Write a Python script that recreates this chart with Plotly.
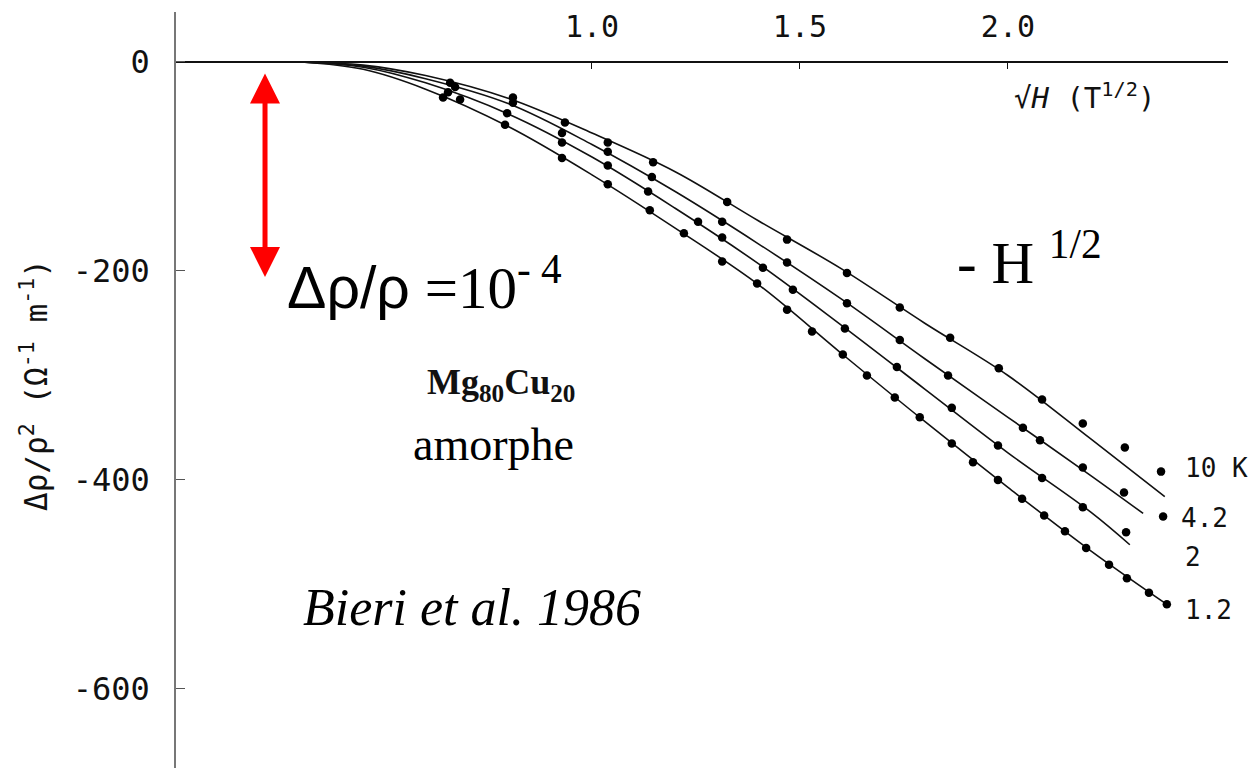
import plotly.graph_objects as go

# ---------------- data (x = sqrt(H) in T^1/2, y = Δρ/ρ² in Ω⁻¹ m⁻¹) ----------------
x_10K = [0.659, 0.810, 0.935, 1.038, 1.147, 1.325, 1.469, 1.613, 1.740, 1.861, 1.978, 2.082, 2.180, 2.281, 2.368]
y_10K = [-20, -34, -58, -77, -96, -134, -170, -202, -235, -264, -293, -323, -346, -369, -392]

x_4K2 = [0.671, 0.810, 0.928, 1.038, 1.144, 1.313, 1.469, 1.613, 1.740, 1.856, 2.036, 2.077, 2.180, 2.279, 2.373]
y_4K2 = [-24, -39, -68, -86, -110, -153, -192, -231, -266, -300, -350, -362, -388, -412, -435]

x_2K = [0.654, 0.796, 0.928, 1.038, 1.135, 1.255, 1.313, 1.411, 1.483, 1.608, 1.733, 1.865, 1.976, 2.082, 2.180, 2.284]
y_2K = [-29, -49, -77, -99, -124, -153, -168, -197, -218, -255, -292, -331, -367, -398, -426, -450]

x_1K2 = [0.642, 0.683, 0.791, 0.928, 1.038, 1.139, 1.221, 1.313, 1.397, 1.469, 1.529, 1.603, 1.661,
         1.728, 1.788, 1.865, 1.916, 1.976, 2.034, 2.087, 2.137, 2.188, 2.243, 2.286, 2.339, 2.382]
y_1K2 = [-34, -36, -60, -92, -117, -142, -164, -191, -212, -237, -258, -280, -300,
         -321, -340, -365, -383, -400, -418, -434, -449, -465, -481, -494, -508, -519]

# fitted curves
fit_x_10K = [0.30, 0.45, 0.60, 0.80, 1.00, 1.20, 1.40, 1.60, 1.80, 2.00, 2.20, 2.377]
fit_y_10K = [0, -3, -13, -35, -68, -105, -152, -198, -250, -300, -361, -416]

fit_x_4K2 = [0.30, 0.45, 0.60, 0.80, 1.00, 1.20, 1.40, 1.60, 1.80, 2.00, 2.20, 2.325]
fit_y_4K2 = [0, -4, -16, -40, -79, -124, -174, -227, -284, -340, -396, -432]

fit_x_2K = [0.30, 0.45, 0.60, 0.80, 1.00, 1.20, 1.40, 1.60, 1.80, 2.00, 2.20, 2.293]
fit_y_2K = [0, -5, -20, -50, -91, -140, -193, -252, -313, -374, -431, -462]

fit_x_1K2 = [0.30, 0.45, 0.60, 0.80, 1.00, 1.20, 1.40, 1.60, 1.80, 2.00, 2.20, 2.382]
fit_y_1K2 = [0, -7, -26, -62, -108, -159, -213, -279, -344, -407, -468, -519]

series_names = ["10 K", "4.2", "2", "1.2"]

x_tick_vals = [1.0, 1.5, 2.0]
x_tick_labels = ["1.0", "1.5", "2.0"]
y_tick_vals = [0, -200, -400, -600]
y_tick_labels = ["0", "-200", "-400", "-600"]

# ---------------- figure ----------------
fig = go.Figure()

fits = [(fit_x_10K, fit_y_10K), (fit_x_4K2, fit_y_4K2), (fit_x_2K, fit_y_2K), (fit_x_1K2, fit_y_1K2)]
pts = [(x_10K, y_10K), (x_4K2, y_4K2), (x_2K, y_2K), (x_1K2, y_1K2)]

for name, (fx, fy) in zip(series_names, fits):
    fig.add_trace(go.Scatter(x=fx, y=fy, mode="lines", name=name + " fit",
                             line=dict(color="#111111", width=1.6, shape="spline", smoothing=1.0),
                             showlegend=False, hoverinfo="skip"))
for name, (px, py) in zip(series_names, pts):
    fig.add_trace(go.Scatter(x=px, y=py, mode="markers", name=name,
                             marker=dict(color="#000000", size=8.5),
                             showlegend=False))

Y_MIN, Y_MAX = -675.6, 47.8
X_MIN, X_MAX = 0.0, 2.529
mono = "DejaVu Sans Mono"
serif = "Liberation Serif"

fig.update_layout(
    width=1250, height=768,
    margin=dict(l=176, r=22, t=12, b=0),
    paper_bgcolor="white", plot_bgcolor="white",
    showlegend=False,
    xaxis=dict(range=[X_MIN, X_MAX], side="top", anchor="free",
               position=(0 - Y_MIN) / (Y_MAX - Y_MIN),
               showline=True, linecolor="#111111", linewidth=2,
               ticks="inside", ticklen=6, tickcolor="#111111",
               tickvals=x_tick_vals, ticktext=x_tick_labels,
               tickfont=dict(family=mono, size=30, color="#111111"),
               ticklabelstandoff=12,
               showgrid=False, zeroline=False),
    yaxis=dict(range=[Y_MIN, Y_MAX],
               showline=True, linecolor="#777777", linewidth=1.5,
               ticks="inside", ticklen=9, tickcolor="#555555",
               tickvals=y_tick_vals, ticktext=y_tick_labels,
               tickfont=dict(family=mono, size=32, color="#111111"),
               ticklabelstandoff=18,
               showgrid=False, zeroline=False),
)

lab_font = dict(family=mono, size=26, color="#111111")
annotations = [
    # y axis title
    dict(text="Δρ/ρ<sup>2</sup> (Ω<sup>-1</sup> m<sup>-1</sup>)", xref="paper", yref="paper",
         x=-0.135, y=(768 - 385) / 756, textangle=-90, showarrow=False,
         font=dict(family=mono, size=31, color="#111111"), xanchor="center", yanchor="middle"),
    # x axis title
    dict(text="√<i>H</i> (T<sup>1/2</sup>)", xref="x", yref="y", x=2.185, y=-33, showarrow=False,
         font=dict(family=mono, size=29, color="#111111"), xanchor="center", yanchor="middle"),
    # curve labels
    dict(text="10 K", xref="x", yref="y", x=2.422, y=-389, showarrow=False, xanchor="left", font=lab_font),
    dict(text="4.2", xref="x", yref="y", x=2.412, y=-436, showarrow=False, xanchor="left", font=lab_font),
    dict(text="2", xref="x", yref="y", x=2.422, y=-474, showarrow=False, xanchor="left", font=lab_font),
    dict(text="1.2", xref="x", yref="y", x=2.422, y=-524, showarrow=False, xanchor="left", font=lab_font),
    # red double arrow
    dict(x=0.214, y=-205.7, ax=0.214, ay=-9.6, xref="x", yref="y", axref="x", ayref="y",
         text="", showarrow=True, arrowhead=2, startarrowhead=2, arrowside="end+start",
         arrowwidth=5, arrowsize=1.2, startarrowsize=1.2, arrowcolor="#ff0000",
         standoff=0, startstandoff=0),
    # texts
    dict(text="<span style=\"font-family:'Liberation Sans'\">Δρ/ρ</span> =10<sup>- 4</sup>",
         xref="x", yref="y", x=0.262, y=-212, showarrow=False, xanchor="left", yanchor="middle",
         font=dict(family=serif, size=59, color="#000000")),
    dict(text="- H <sup>1/2</sup>", xref="x", yref="y", x=1.873, y=-188, showarrow=False,
         xanchor="left", yanchor="middle", font=dict(family=serif, size=59, color="#000000")),
    dict(text="<b>Mg<sub>80</sub>Cu<sub>20</sub></b>", xref="x", yref="y", x=0.781, y=-309,
         showarrow=False, xanchor="center", yanchor="middle",
         font=dict(family=serif, size=36, color="#111111")),
    dict(text="amorphe", xref="x", yref="y", x=0.764, y=-366, showarrow=False,
         xanchor="center", yanchor="middle", font=dict(family=serif, size=46, color="#000000")),
    dict(text="<i>Bieri et al. 1986</i>", xref="x", yref="y", x=0.712, y=-522, showarrow=False,
         xanchor="center", yanchor="middle", font=dict(family=serif, size=52, color="#000000")),
]
fig.update_layout(annotations=annotations)

fig.write_html("out.html")
